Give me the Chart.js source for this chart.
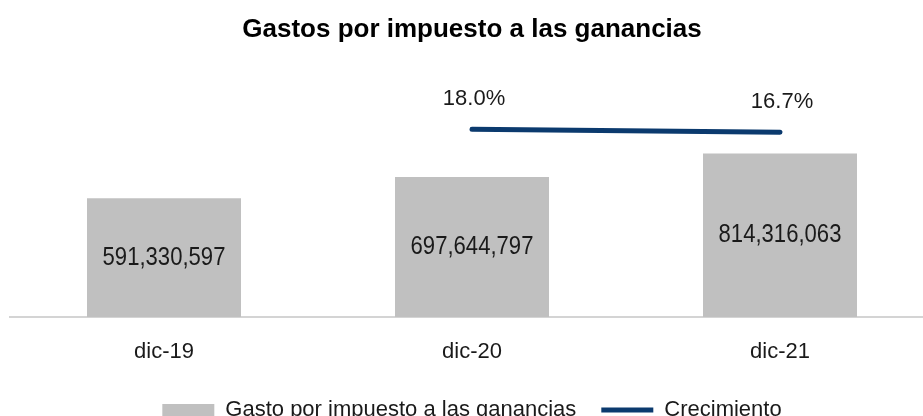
<!DOCTYPE html>
<html>
<head>
<meta charset="utf-8">
<script src="https://cdn.jsdelivr.net/npm/chart.js@4/dist/chart.umd.min.js"></script>
<style>
    body { margin: 0; overflow: hidden; background: #fff; }
    #wrap { position: relative; width: 946px; height: 431px; }
</style>
</head>
<body>
<div id="wrap"><canvas id="chart"></canvas></div>
<script>
/* =========================
   DATA
========================= */

const categories = ["dic-19", "dic-20", "dic-21"];
const gastoValues = [591330597, 697644797, 814316063];
const crecimientoValues = [null, 18.0, 16.7];

const SANS = "'Liberation Sans', Arial, sans-serif";

/* =========================
   VALUE LABELS
========================= */

// text narrower than normal, like the condensed labels of the original
function narrowText(ctx, text, x, y) {
    ctx.save();
    ctx.translate(x, y);
    ctx.scale(0.85, 1);
    ctx.fillText(text, 0, 0);
    ctx.restore();
}

const valueLabels = {
    id: "valueLabels",
    afterDatasetsDraw(chart) {
        const ctx = chart.ctx;
        ctx.save();
        ctx.textAlign = "center";
        ctx.textBaseline = "middle";
        ctx.fillStyle = "#1a1a1a";

        // bars: number in the middle of the bar
        ctx.font = "26px " + SANS;
        chart.getDatasetMeta(0).data.forEach((bar, i) => {
            let mid = (bar.y + bar.base) / 2;
            narrowText(ctx, gastoValues[i].toLocaleString("en-US"), bar.x, mid);
        });

        // line: percent above the point
        ctx.font = "22px " + SANS;
        chart.getDatasetMeta(1).data.forEach((pt, i) => {
            if (crecimientoValues[i] === null) return;
            ctx.fillText(crecimientoValues[i].toFixed(1) + "%", pt.x + 2, pt.y - 30);
        });
        ctx.restore();
    }
};

/* =========================
   CHART
========================= */

new Chart(document.getElementById("chart"), {
    type: "bar",
    data: {
        labels: categories,
        datasets: [
            {
                type: "bar",
                label: "Gasto por impuesto a las ganancias",
                data: gastoValues,
                backgroundColor: "#c0c0c0",
                categoryPercentage: 1,
                barPercentage: 0.5,
                yAxisID: "y",
                order: 2
            },
            {
                type: "line",
                label: "Crecimiento",
                data: crecimientoValues,
                borderColor: "#0b3a6e",
                backgroundColor: "#0b3a6e",
                borderWidth: 5,
                borderCapStyle: "round",
                pointRadius: 0,
                yAxisID: "y2",
                order: 1
            }
        ]
    },
    options: {
        responsive: true,
        maintainAspectRatio: false,
        animation: false,
        layout: { padding: { left: 10, right: 12, top: 0, bottom: 0 } },
        scales: {
            x: {
                grid: { display: false, drawTicks: false },
                border: { display: true, color: "#d4d4d4", width: 2 },
                ticks: {
                    padding: 22,
                    color: "#1a1a1a",
                    font: { family: SANS, size: 22 }
                },
                afterFit(scale) {
                    scale.height = 57;
                }
            },
            y: {
                display: false,
                min: 0,
                max: 1200000000
            },
            y2: {
                display: false,
                min: -60,
                max: 40
            }
        },
        plugins: {
            title: {
                display: true,
                text: "Gastos por impuesto a las ganancias",
                color: "#000",
                font: { family: SANS, size: 26, weight: "bold" },
                padding: { top: 14, bottom: 31 }
            },
            legend: {
                position: "bottom",
                labels: {
                    color: "#1a1a1a",
                    font: { family: SANS, size: 22 },
                    usePointStyle: true,
                    pointStyleWidth: 52,
                    boxWidth: 52,
                    boxHeight: 12,
                    padding: 25,
                    generateLabels(chart) {
                        let items = Chart.defaults.plugins.legend.labels.generateLabels(chart);
                        items.sort((a, b) => a.datasetIndex - b.datasetIndex);
                        items[0].pointStyle = "rect";
                        items[0].lineWidth = 0;
                        items[1].pointStyle = "line";
                        items[1].lineWidth = 5;
                        return items;
                    }
                }
            },
            tooltip: { enabled: false }
        }
    },
    plugins: [valueLabels]
});
</script>
</body>
</html>
